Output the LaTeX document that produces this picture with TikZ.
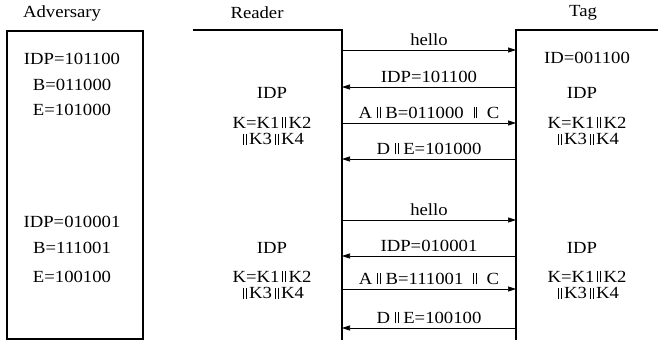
\documentclass[tikz,border=0pt]{standalone}
\usepackage{fontspec}
\setmainfont{Liberation Serif}[FakeStretch=1.1]
\usetikzlibrary{arrows.meta}
\newcommand{\dbar}[1][3pt]{\hspace{#1}\rule{0.6pt}{1.45ex}\kern2pt\rule{0.6pt}{1.45ex}\hspace{#1}}
\tikzset{
	msg/.style={-{Triangle[length=8pt,width=5pt]}, line width=0.7pt},
	life/.style={line width=1.1pt},
	lbl/.style={midway, above=4pt, inner sep=0pt},
	txt/.style={align=center, inner sep=0pt},
}
\begin{document}
\begin{tikzpicture}[x=1pt,y=-1pt,font=\fontsize{17}{16.5}\selectfont]
	\useasboundingbox (0,0) rectangle (658,342);
	
	\node (adv) at (62,13) {Adversary};
	\node (rdr) at (257,13) {Reader};
	\node (tag) at (583,13) {Tag};
	
	\draw[life] (7,31) rectangle (143,339);
	\draw[life] (193,30) -- (342,30) -- (342,340);
	\draw[life] (658,30) -- (516,30) -- (516,340);
	
	\node[txt] (a1) at (72,59) {IDP=101100};
	\node[txt] (a2) at (72,85) {B=011000};
	\node[txt] (a3) at (72,110) {E=101000};
	\node[txt] (a4) at (72,222) {IDP=010001};
	\node[txt] (a5) at (72,248) {B=111001};
	\node[txt] (a6) at (72,277) {E=100100};
	
	\node[txt] (ri1) at (272,93) {IDP};
	\node[txt] (rk1) at (272,131) {K=K1\dbar K2\\\dbar K3\dbar K4};
	\node[txt] (ri2) at (272,248) {IDP};
	\node[txt] (rk2) at (272,285) {K=K1\dbar K2\\\dbar K3\dbar K4};
	
	\node[txt] (tid) at (587,58) {ID=001100};
	\node[txt] (ti1) at (582,93) {IDP};
	\node[txt] (tk1) at (587,131) {K=K1\dbar K2\\\dbar K3\dbar K4};
	\node[txt] (ti2) at (582,248) {IDP};
	\node[txt] (tk2) at (587,285) {K=K1\dbar K2\\\dbar K3\dbar K4};
	
	\foreach \y [count=\i] in {50,87,123,159,220,256,289,328}{
		\coordinate (r\i) at (342,\y);
		\coordinate (t\i) at (516,\y);
	}
	
	\draw[msg] (r1) -- node[lbl] (m1) {hello} (t1);
	\draw[msg] (t2) -- node[lbl] (m2) {IDP=101100} (r2);
	\draw[msg] (r3) -- node[lbl] (m3) {A\dbar[5pt]B=011000\dbar[10pt]C} (t3);
	\draw[msg] (t4) -- node[lbl] (m4) {D\dbar[5pt]E=101000} (r4);
	
	\draw[msg] (r5) -- node[lbl] (m5) {hello} (t5);
	\draw[msg] (t6) -- node[lbl] (m6) {IDP=010001} (r6);
	\draw[msg] (r7) -- node[lbl] (m7) {A\dbar[5pt]B=111001\dbar[10pt]C} (t7);
	\draw[msg] (t8) -- node[lbl] (m8) {D\dbar[5pt]E=100100} (r8);
\end{tikzpicture}
\end{document}
